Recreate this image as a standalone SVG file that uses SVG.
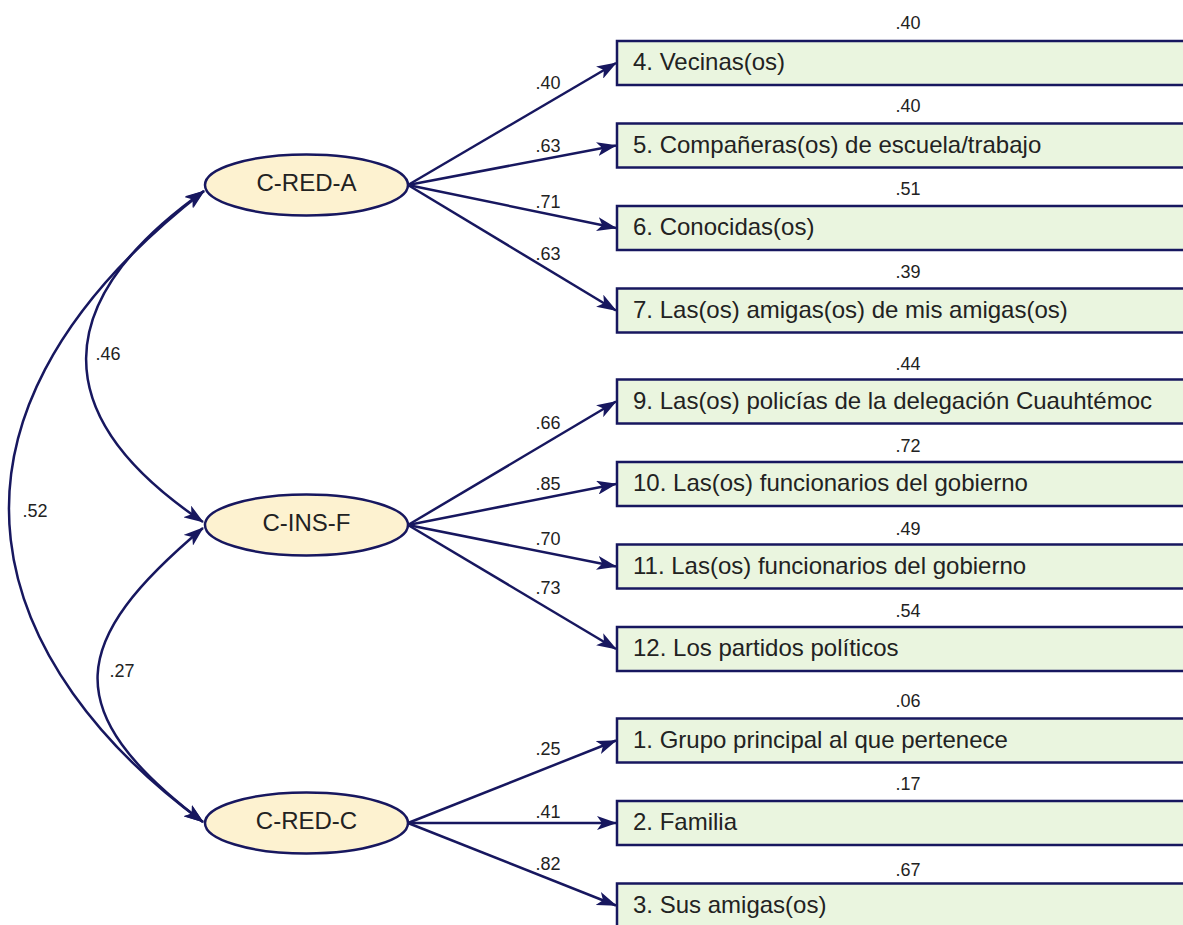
<svg xmlns="http://www.w3.org/2000/svg" width="1183" height="925" viewBox="0 0 1183 925">
<style>
.box{fill:#eaf5df;stroke:#17175f;stroke-width:2.5}
.lat{fill:#fdf2d0;stroke:#17175f;stroke-width:2.5}
.t{font-family:"Liberation Sans",Arial,sans-serif;font-size:24px;fill:#222}
.s{font-family:"Liberation Sans",Arial,sans-serif;font-size:18px;fill:#222;text-anchor:middle}
.c{text-anchor:middle}
.e{fill:none;stroke:#17175f;stroke-width:2.5;marker-end:url(#ah)}
.cv{fill:none;stroke:#17175f;stroke-width:2.5;marker-start:url(#ah);marker-end:url(#ah)}
</style>
<defs>
<marker id="ah" markerUnits="userSpaceOnUse" viewBox="0 0 20 14" markerWidth="20" markerHeight="14" refX="19" refY="7" orient="auto-start-reverse">
<path d="M0,0 L20,7 L0,14 L5,7 z" fill="#17175f"/>
</marker>
</defs>
<rect width="1183" height="925" fill="#fff"/>
<g id="connectors">
<line class="e" x1="408" y1="185" x2="616" y2="63"/>
<line class="e" x1="408" y1="185" x2="616" y2="145.5"/>
<line class="e" x1="408" y1="185" x2="616" y2="228"/>
<line class="e" x1="408" y1="185" x2="616" y2="310.5"/>
<line class="e" x1="408" y1="525" x2="616" y2="401.5"/>
<line class="e" x1="408" y1="525" x2="616" y2="484"/>
<line class="e" x1="408" y1="525" x2="616" y2="566.5"/>
<line class="e" x1="408" y1="525" x2="616" y2="649"/>
<line class="e" x1="408" y1="823" x2="616" y2="740.5"/>
<line class="e" x1="408" y1="823" x2="616" y2="823"/>
<line class="e" x1="408" y1="823" x2="616" y2="905.5"/>
<path class="cv" d="M204,191 C49,301 45,416 203,522"/>
<path class="cv" d="M203,528 C70,640 55,710 203,822"/>
<path class="cv" d="M204,191 C-104,431 -3,671 203,822"/>
<text class="s" x="548" y="89">.40</text>
<text class="s" x="548" y="152">.63</text>
<text class="s" x="548" y="208">.71</text>
<text class="s" x="548" y="260">.63</text>
<text class="s" x="548" y="429">.66</text>
<text class="s" x="548" y="490">.85</text>
<text class="s" x="548" y="545">.70</text>
<text class="s" x="548" y="594">.73</text>
<text class="s" x="548" y="755">.25</text>
<text class="s" x="548" y="818">.41</text>
<text class="s" x="548" y="870">.82</text>
<text class="s" x="108" y="360">.46</text>
<text class="s" x="35" y="517">.52</text>
<text class="s" x="122" y="677">.27</text>
</g>
<g id="C-RED-A"><ellipse class="lat" cx="306.5" cy="185" rx="101.5" ry="30.5"/><text class="t c" x="306.5" y="191">C-RED-A</text></g>
<g id="C-INS-F"><ellipse class="lat" cx="306.5" cy="525" rx="101.5" ry="30.5"/><text class="t c" x="306.5" y="531">C-INS-F</text></g>
<g id="C-RED-C"><ellipse class="lat" cx="306.5" cy="823" rx="101.5" ry="30.5"/><text class="t c" x="306.5" y="829">C-RED-C</text></g>
<g id="v4"><rect class="box" x="617" y="41" width="600" height="44"/><text class="t" x="633" y="70">4. Vecinas(os)</text><text class="s" x="908" y="29">.40</text></g>
<g id="v5"><rect class="box" x="617" y="123.5" width="600" height="44"/><text class="t" x="633" y="152.5">5. Compañeras(os) de escuela/trabajo</text><text class="s" x="908" y="112">.40</text></g>
<g id="v6"><rect class="box" x="617" y="206" width="600" height="44"/><text class="t" x="633" y="235">6. Conocidas(os)</text><text class="s" x="908" y="195">.51</text></g>
<g id="v7"><rect class="box" x="617" y="288.5" width="600" height="44"/><text class="t" x="633" y="317.5">7. Las(os) amigas(os) de mis amigas(os)</text><text class="s" x="908" y="278">.39</text></g>
<g id="v9"><rect class="box" x="617" y="379.5" width="600" height="44"/><text class="t" x="633" y="408.5">9. Las(os) policías de la delegación Cuauhtémoc</text><text class="s" x="908" y="369.5">.44</text></g>
<g id="v10"><rect class="box" x="617" y="462" width="600" height="44"/><text class="t" x="633" y="491">10. Las(os) funcionarios del gobierno</text><text class="s" x="908" y="451.5">.72</text></g>
<g id="v11"><rect class="box" x="617" y="544.5" width="600" height="44"/><text class="t" x="633" y="573.5">11. Las(os) funcionarios del gobierno</text><text class="s" x="908" y="534.5">.49</text></g>
<g id="v12"><rect class="box" x="617" y="627" width="600" height="44"/><text class="t" x="633" y="656">12. Los partidos políticos</text><text class="s" x="908" y="616.5">.54</text></g>
<g id="v1"><rect class="box" x="617" y="718.5" width="600" height="44"/><text class="t" x="633" y="747.5">1. Grupo principal al que pertenece</text><text class="s" x="908" y="706.5">.06</text></g>
<g id="v2"><rect class="box" x="617" y="801" width="600" height="44"/><text class="t" x="633" y="830">2. Familia</text><text class="s" x="908" y="789.5">.17</text></g>
<g id="v3"><rect class="box" x="617" y="883.5" width="600" height="44"/><text class="t" x="633" y="912.5">3. Sus amigas(os)</text><text class="s" x="908" y="876">.67</text></g>
</svg>
